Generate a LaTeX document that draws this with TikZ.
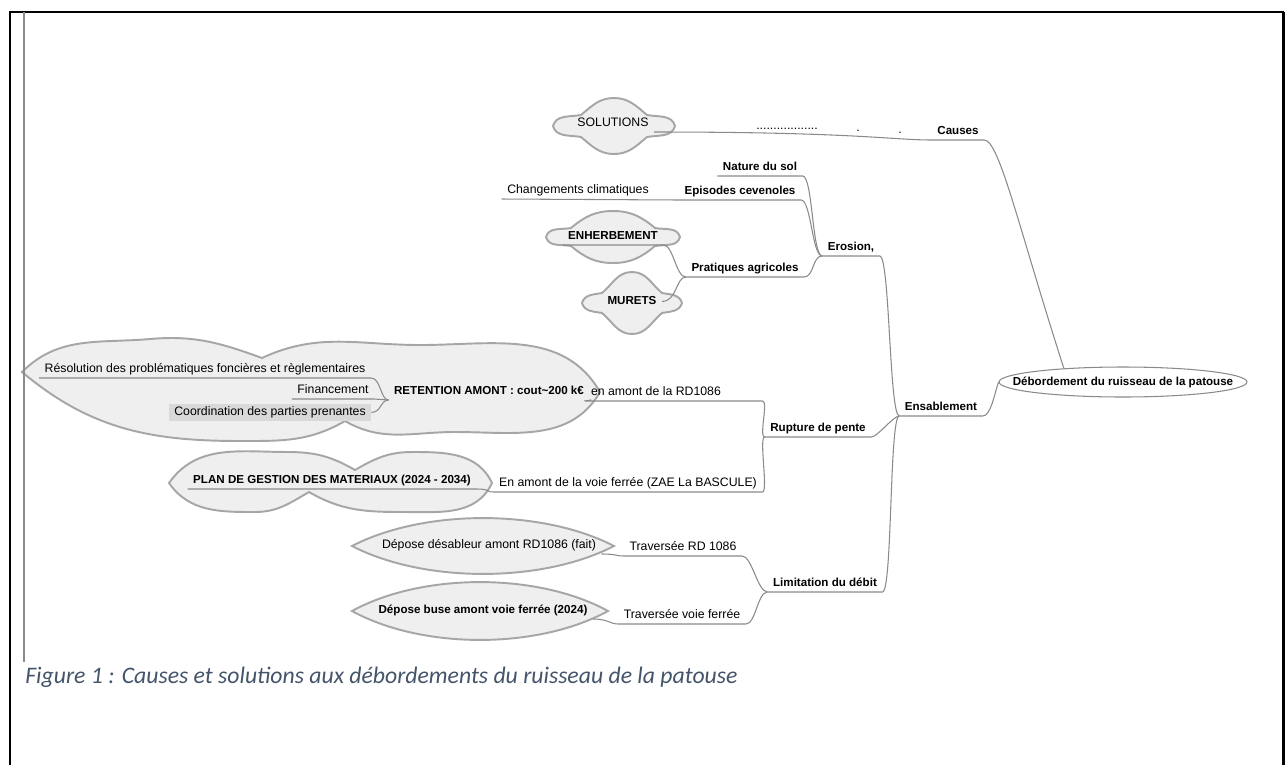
\documentclass[tikz,border=0pt]{standalone}
\usepackage{fontspec}
\setmainfont{Liberation Sans}
\newfontfamily\captionfont{Carlito}
\usetikzlibrary{shapes.geometric, backgrounds}

\definecolor{linkgray}{HTML}{8A8A8A}
\definecolor{cloudgray}{HTML}{A6A6A6}
\definecolor{cloudfill}{HTML}{EFEFEF}
\definecolor{boxgray}{HTML}{D9D9D9}
\definecolor{captionblue}{HTML}{44546A}

\tikzstyle{topic} = [
	font=\fontsize{6.6}{8}\selectfont\bfseries,
	text height=5pt,
	text depth=1.6pt,
	inner xsep=3pt,
	inner ysep=1.4pt,
	anchor=south
]
\tikzstyle{subtopic} = [
	topic,
	font=\fontsize{7}{8}\selectfont
]
\tikzstyle{greybox} = [
	subtopic,
	fill=boxgray
]
\tikzstyle{central} = [
	ellipse,
	draw=linkgray,
	fill=white,
	line width=0.6pt,
	inner xsep=-13.5pt,
	inner ysep=0.5pt,
	minimum width=4.96cm,
	minimum height=0.6cm,
	font=\fontsize{6.6}{8}\selectfont\bfseries
]
\tikzstyle{link} = [draw=linkgray, line width=0.6pt]
\tikzstyle{cloudline} = [draw=cloudgray, fill=cloudfill, line width=1.1pt]
\tikzstyle{pageframe} = [draw=black, line width=1.7pt]

% saucer: centre x, centre y, half width, rim x, rim y, dome height
\newcommand{\saucer}[6]{
	\begin{scope}[shift={(#1,#2)}]
		\draw [cloudline] (-#3,0) to[out=75,in=190] (-#4,#5) to[out=40,in=180] (0,#6)
			to[out=0,in=140] (#4,#5) to[out=-10,in=105] (#3,0)
			to[out=-105,in=10] (#4,-#5) to[out=-140,in=0] (0,-#6)
			to[out=180,in=-40] (-#4,-#5) to[out=170,in=-75] (-#3,0) -- cycle;
	\end{scope}
}
% lens: centre x, centre y, half width, half height
\newcommand{\lens}[4]{
	\begin{scope}[shift={(#1,#2)}]
		\draw [cloudline] (-#3,0) .. controls (-0.45*#3,1.33*#4) and (0.45*#3,1.33*#4) .. (#3,0)
			.. controls (0.45*#3,-1.33*#4) and (-0.45*#3,-1.33*#4) .. (-#3,0) -- cycle;
	\end{scope}
}

\begin{document}
\begin{tikzpicture}[x=0.02cm, y=0.02cm]
	\useasboundingbox (0,0) rectangle (1286,-765);

	\draw [pageframe] (10,-12) -- (10,-765);
	\draw [pageframe] (1283,-12) -- (1283,-765);
	\draw [black, line width=0.9pt] (9,-12) -- (1284,-12);
	\draw [linkgray, line width=0.6pt] (24,-12) -- (24,-662);

	\node (root) [central] at (1123,-382) {Débordement du ruisseau de la patouse};

	\node (causes) [topic] at (958,-140) {Causes};
	\node (dots) [subtopic] at (787,-135) {..................};
	\node (dota) [subtopic] at (858,-137) {.};
	\node (dotb) [subtopic] at (900,-139) {.};
	\node (solutions) [subtopic] at (613,-132) {SOLUTIONS};

	\node (ensablement) [topic] at (941,-416) {Ensablement};
	\node (erosion) [topic] at (851,-256) {Erosion,};
	\node (nature) [topic] at (760,-176) {Nature du sol};
	\node (episodes) [topic] at (740,-200) {Episodes cevenoles};
	\node (changements) [subtopic] at (578,-199) {Changements climatiques};
	\node (pratiques) [topic] at (745,-277) {Pratiques agricoles};
	\node (enherbement) [topic] at (613,-245) {ENHERBEMENT};
	\node (murets) [topic] at (632,-310) {MURETS};

	\node (rupture) [topic] at (818,-437) {Rupture de pente};
	\node (enamont) [subtopic] at (656,-401) {en amont de la RD1086};
	\node (retention) [topic] at (489,-400) {RETENTION AMONT : cout\textasciitilde 200 k€};
	\node (resolution) [subtopic] at (205,-378) {Résolution des problématiques foncières et règlementaires};
	\node (financement) [subtopic] at (333,-399) {Financement};
	\node (coordination) [greybox] at (270,-421) {Coordination des parties prenantes};
	\node (plan) [topic] at (332,-489) {PLAN DE GESTION DES MATERIAUX (2024 - 2034)};
	\node (voieferree) [subtopic] at (628,-492) {En amont de la voie ferrée (ZAE La BASCULE)};

	\node (limitation) [topic] at (825,-592) {Limitation du débit};
	\node (traverseerd) [subtopic] at (683,-556) {Traversée RD 1086};
	\node (traverseevf) [subtopic] at (682,-624) {Traversée voie ferrée};
	\node (deposedes) [subtopic] at (489,-554) {Dépose désableur amont RD1086 (fait)};
	\node (deposebuse) [topic] at (483,-619) {Dépose buse amont voie ferrée (2024)};

	\node (caption) [anchor=base west, inner sep=0pt, text=captionblue, font=\captionfont\itshape\fontsize{13.5}{16}\selectfont] at (25,-683) {Figure 1 : Causes et solutions aux débordements du ruisseau de la patouse};

	\draw [link] (root.167) .. controls +(-45,140) and +(15,0) .. (causes.south east) -- (causes.south west) .. controls +(-40,0) and +(200,0) .. (solutions.south east);
	\draw [link] (ensablement.south west) -- (ensablement.south east) .. controls +(8,0) and +(-4,-12) .. (root.west);

	\draw [link] (erosion.south west) -- (erosion.south east) .. controls +(10,0) and +(-10,0) .. (ensablement.south west);
	\draw [link] (rupture.south west) -- (rupture.south east) .. controls +(6,0) and +(-6,0) .. (ensablement.south west);
	\draw [link] (limitation.south west) -- (limitation.south east) .. controls +(10,0) and +(-10,0) .. (ensablement.south west);

	\draw [link] (nature.south west) -- (nature.south east) .. controls +(10,0) and +(-10,0) .. (erosion.south west);
	\draw [link] (changements.south west) -- (episodes.south west) -- (episodes.south east) .. controls +(10,0) and +(-10,0) .. (erosion.south west);
	\draw [link] (pratiques.south west) -- (pratiques.south east) .. controls +(10,0) and +(-10,0) .. (erosion.south west);
	\draw [link] (enherbement.south west) -- (enherbement.south east) .. controls +(10,0) and +(-10,0) .. (pratiques.south west);
	\draw [link] (murets.east) .. controls +(15,0) and +(-10,0) .. (pratiques.south west);

	\draw [link] (enamont.south west) -- (enamont.south east) -- ++(36,0) .. controls +(6,0) and +(-6,0) .. (rupture.south west);
	\draw [link] (retention.south east) .. controls +(6,0) and +(-4,0) .. (enamont.south west);
	\draw [link] (resolution.south west) -- (resolution.south east) .. controls +(10,0) and +(-8,0) .. (retention.south west);
	\draw [link] (financement.south west) -- (financement.south east) .. controls +(8,0) and +(-8,0) .. (retention.south west);
	\draw [link] (coordination.east) .. controls +(10,0) and +(-8,0) .. (retention.south west);
	\draw [link] (plan.south west) -- (plan.south east) .. controls +(15,0) and +(-8,0) .. (voieferree.south west) -- (voieferree.south east) .. controls +(6,0) and +(-6,0) .. (rupture.south west);

	\draw [link] (deposedes.south east) .. controls +(15,0) and +(-8,0) .. (traverseerd.south west) -- (traverseerd.south east) .. controls +(10,0) and +(-10,0) .. (limitation.south west);
	\draw [link] (deposebuse.south east) .. controls +(15,0) and +(-8,0) .. (traverseevf.south west) -- (traverseevf.south east) .. controls +(10,0) and +(-10,0) .. (limitation.south west);

	\begin{pgfonlayer}{background}
		\saucer{614}{-126}{61}{33}{11}{28}
		\saucer{613}{-237}{67}{42}{9}{26}
		\saucer{632}{-303}{50}{30}{10}{31}
		\lens{483}{-546}{131}{28}
		\lens{480}{-611}{128}{29}
		% retention cloud
		\draw [cloudline] (22,-372) to[out=45,in=185] (150,-339) to[out=5,in=160] (262,-358)
			to[out=25,in=180] (420,-345) to[out=0,in=120] (600,-392)
			to[out=-120,in=0] (455,-432) to[out=180,in=-30] (345,-421)
			to[out=-150,in=0] (240,-441) to[out=180,in=-40] (22,-372) -- cycle;
		% plan cloud
		\draw [cloudline] (169,-483) to[out=55,in=180] (288,-452) to[out=0,in=150] (355,-470)
			to[out=30,in=180] (412,-452) to[out=0,in=115] (492,-483)
			to[out=-115,in=0] (402,-512) to[out=180,in=-30] (309,-492)
			to[out=-150,in=0] (255,-512) to[out=180,in=-55] (169,-483) -- cycle;
	\end{pgfonlayer}
\end{tikzpicture}
\end{document}
